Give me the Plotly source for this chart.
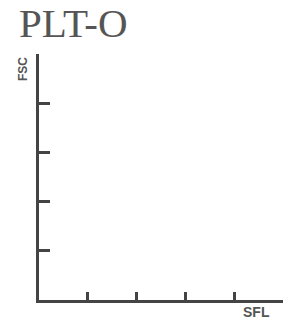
import plotly.graph_objects as go

# Chart content (empty scatter plot frame)
title_text = "PLT-O"
x_label = "SFL"
y_label = "FSC"
x_ticks = [1, 2, 3, 4, 5]
y_ticks = [1, 2, 3, 4, 5]
x_range = [0, 5]
y_range = [0, 5]

axis_color = "#444444"
text_color = "#555555"

fig = go.Figure()
fig.add_trace(go.Scatter(x=[], y=[], mode="markers", showlegend=False))

fig.update_layout(
    width=290, height=328,
    margin=dict(l=39, r=7, t=54, b=28),
    paper_bgcolor="white", plot_bgcolor="white",
    showlegend=False,
)
common = dict(showgrid=False, zeroline=False, showline=True, linecolor=axis_color,
              linewidth=3, ticks="inside", tickcolor=axis_color, tickwidth=3,
              showticklabels=False, fixedrange=True)
fig.update_xaxes(range=x_range, tickvals=x_ticks, ticklen=8, **common)
fig.update_yaxes(range=y_range, tickvals=y_ticks, ticklen=11, **common)

fig.add_annotation(text=title_text, xref="paper", yref="paper", x=0, y=1,
                   xanchor="left", yanchor="bottom", xshift=-21, yshift=7,
                   showarrow=False, borderpad=0,
                   font=dict(family="Liberation Serif", size=41, color=text_color))
fig.add_annotation(text="<b>" + y_label + "</b>", xref="paper", yref="paper", x=0, y=1,
                   xanchor="center", yanchor="middle", xshift=-16, yshift=-15,
                   textangle=-90, showarrow=False,
                   font=dict(family="Liberation Sans", size=12, color=text_color))
fig.add_annotation(text="<b>" + x_label + "</b>", xref="paper", yref="paper", x=1, y=0,
                   xanchor="center", yanchor="middle", xshift=-27, yshift=-12,
                   showarrow=False,
                   font=dict(family="Liberation Sans", size=14, color=text_color))

# remove the page's default body margin so the figure starts at the window corner
fig.write_html("out.html", config={"displayModeBar": False, "staticPlot": True},
               post_script="document.body.style.margin='0';")
